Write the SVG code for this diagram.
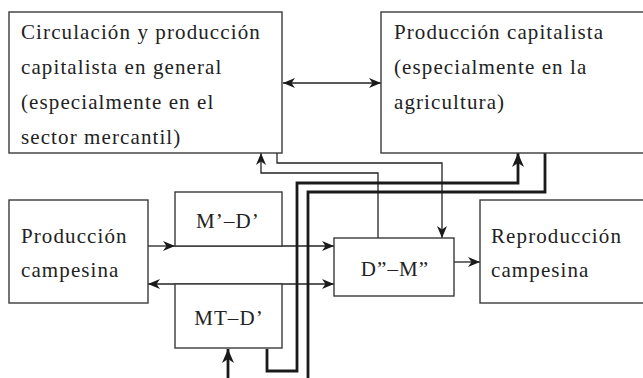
<svg xmlns="http://www.w3.org/2000/svg" width="643" height="378" viewBox="0 0 643 378">
<defs>
<style>
.box{fill:#fff;stroke:#3a3a3a;stroke-width:1.4}
.t{font-family:"Liberation Serif","Times New Roman",serif;font-size:21px;letter-spacing:1.1px;fill:#222}
.c{text-anchor:middle}
.ln{fill:none;stroke:#222;stroke-width:1.3}
.tk{fill:none;stroke:#1a1a1a;stroke-width:2.8}
</style>
<marker id="a" viewBox="0 0 12 10" refX="12" refY="5" markerWidth="12" markerHeight="10" markerUnits="userSpaceOnUse" orient="auto-start-reverse">
<path d="M0,0 L12,5 L0,10 L3.5,5 z" fill="#1a1a1a"/>
</marker>
<marker id="b" viewBox="0 0 14 12" refX="14" refY="6" markerWidth="14" markerHeight="12" markerUnits="userSpaceOnUse" orient="auto-start-reverse">
<path d="M0,0 L14,6 L0,12 L4,6 z" fill="#1a1a1a"/>
</marker>
</defs>
<g id="connectors">
<path class="ln" d="M283,83 H381" marker-start="url(#a)" marker-end="url(#a)"/>
<path class="ln" d="M148,246 H175" marker-end="url(#a)"/>
<path class="ln" d="M175,246 H334" marker-end="url(#a)"/>
<path class="ln" d="M148,284 H334" marker-start="url(#a)" marker-end="url(#a)"/>
<path class="ln" d="M454,262 H480" marker-end="url(#a)"/>
<path class="ln" d="M277,153 V163 H442 V238" marker-end="url(#a)"/>
<path class="ln" d="M378,238 V173 H261 V153" marker-end="url(#a)"/>
<path class="tk" d="M267,349 V371 H297 V183 H518 V153" marker-end="url(#b)"/>
<path class="tk" d="M545,153 V192 H308 V378"/>
<path class="tk" d="M228,378 V349" marker-end="url(#b)"/>
</g>
<g id="circulacion">
<rect class="box" x="9" y="12" width="273" height="141"/>
<text class="t" x="21" y="39">Circulación y producción</text>
<text class="t" x="21" y="74">capitalista en general</text>
<text class="t" x="21" y="109">(especialmente en el</text>
<text class="t" x="21" y="144">sector mercantil)</text>
</g>
<g id="produccion-capitalista">
<rect class="box" x="381" y="12" width="275" height="141"/>
<text class="t" x="394" y="39">Producción capitalista</text>
<text class="t" x="394" y="74">(especialmente en la</text>
<text class="t" x="394" y="109">agricultura)</text>
</g>
<g id="produccion-campesina">
<rect class="box" x="9" y="200" width="139" height="103"/>
<text class="t" x="21" y="243">Producción</text>
<text class="t" x="21" y="277">campesina</text>
</g>
<g id="md">
<rect class="box" x="175" y="192" width="107" height="54"/>
<text class="t c" x="228" y="228">M’–D’</text>
</g>
<g id="mtd">
<rect class="box" x="175" y="284" width="107" height="64"/>
<text class="t c" x="229" y="325">MT–D’</text>
</g>
<g id="dm">
<rect class="box" x="334" y="238" width="120" height="58"/>
<text class="t c" x="395" y="276">D”–M”</text>
</g>
<g id="reproduccion">
<rect class="box" x="480" y="200" width="175" height="103"/>
<text class="t" x="491" y="243">Reproducción</text>
<text class="t" x="491" y="277">campesina</text>
</g>
</svg>
